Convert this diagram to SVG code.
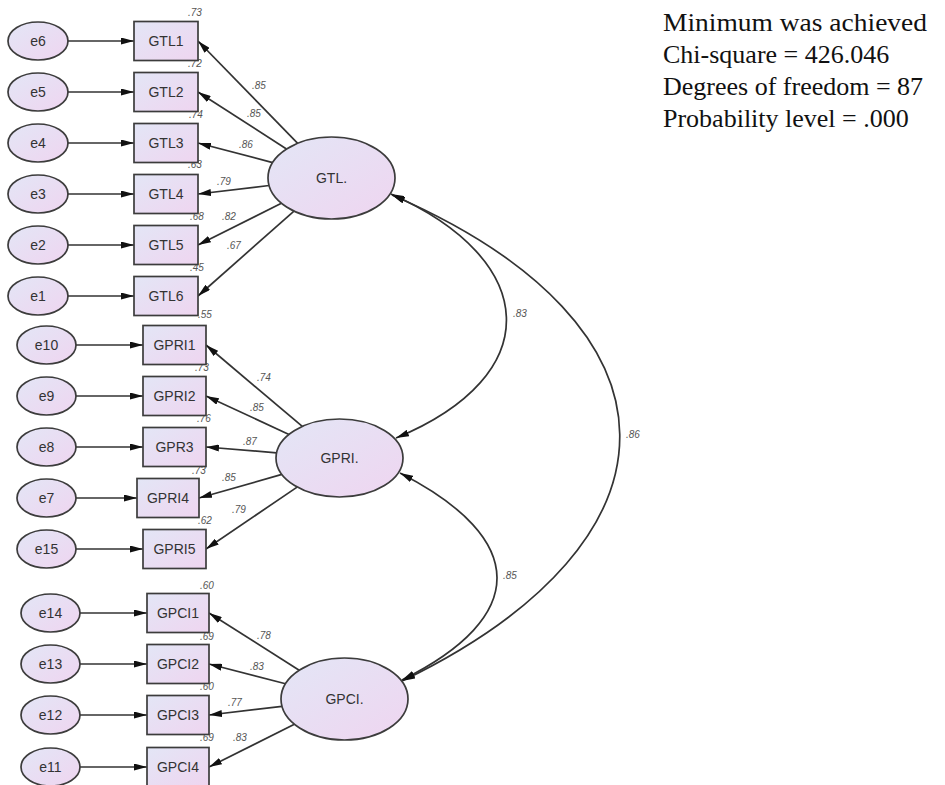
<svg xmlns="http://www.w3.org/2000/svg" width="945" height="785" viewBox="0 0 945 785">
  <style>
    .node { stroke: #3c3c3c; stroke-width: 1.7; fill: url(#nodeFill); }
    .lbl { font-family: "Liberation Sans", Arial, sans-serif; font-size: 14px; fill: #333; text-anchor: middle; }
    .num { font-family: "Liberation Sans", Arial, sans-serif; font-size: 10px; font-style: italic; fill: #555; }
    .path { stroke: #333; stroke-width: 1.7; fill: none; }
    .one { marker-end: url(#head); }
    .two { marker-start: url(#head); marker-end: url(#head); }
    .fit { font-family: "Liberation Serif", "Times New Roman", serif; font-size: 26px; fill: #111; }
  </style>
  <defs>
    <linearGradient id="nodeFill" x1="0" y1="0" x2="1" y2="1">
      <stop offset="0" stop-color="#e3e6f6"/>
      <stop offset="1" stop-color="#efd5f0"/>
    </linearGradient>
    <marker id="head" viewBox="0 0 13 7" refX="13" refY="3.5" markerWidth="13" markerHeight="7" markerUnits="userSpaceOnUse" orient="auto-start-reverse">
      <path d="M0,0 L13,3.5 L0,7 z" fill="#111"/>
    </marker>
  </defs>

  <rect width="945" height="785" fill="#fff"/>

  <!-- paths: errors -> indicators, factors -> indicators, covariances -->
  <g id="connectors">
    <!-- error terms -->
    <line class="path one" x1="68" y1="41" x2="134" y2="41"/>
    <line class="path one" x1="68" y1="92" x2="134" y2="92"/>
    <line class="path one" x1="68" y1="143" x2="134" y2="143"/>
    <line class="path one" x1="68" y1="194" x2="134" y2="194"/>
    <line class="path one" x1="68" y1="245" x2="134" y2="245"/>
    <line class="path one" x1="68" y1="296" x2="134" y2="296"/>
    <line class="path one" x1="76" y1="345" x2="143" y2="345"/>
    <line class="path one" x1="76" y1="396" x2="143" y2="396"/>
    <line class="path one" x1="76" y1="447" x2="143" y2="447"/>
    <line class="path one" x1="76" y1="498" x2="137" y2="498"/>
    <line class="path one" x1="76" y1="549" x2="143" y2="549"/>
    <line class="path one" x1="80" y1="613" x2="147" y2="613"/>
    <line class="path one" x1="80" y1="664" x2="147" y2="664"/>
    <line class="path one" x1="80" y1="715" x2="147" y2="715"/>
    <line class="path one" x1="80" y1="767" x2="147" y2="767"/>
    <!-- GTL loadings -->
    <line class="path one" x1="297.7" y1="143.3" x2="198" y2="41"/>
    <line class="path one" x1="286.5" y1="149" x2="198" y2="92"/>
    <line class="path one" x1="272.7" y1="162.6" x2="198" y2="143"/>
    <line class="path one" x1="269.1" y1="185.5" x2="198" y2="194"/>
    <line class="path one" x1="281.4" y1="203.2" x2="198" y2="245"/>
    <line class="path one" x1="294" y1="211.1" x2="198" y2="296"/>
    <!-- GPRI loadings -->
    <line class="path one" x1="302.3" y1="426.4" x2="206" y2="345"/>
    <line class="path one" x1="289" y1="434.4" x2="206" y2="396"/>
    <line class="path one" x1="276.6" y1="452.8" x2="206" y2="447"/>
    <line class="path one" x1="281.9" y1="474.4" x2="199" y2="498"/>
    <line class="path one" x1="297.1" y1="487.1" x2="206" y2="549"/>
    <!-- GPCI loadings -->
    <line class="path one" x1="299.2" y1="670.3" x2="209" y2="613"/>
    <line class="path one" x1="285.5" y1="683.8" x2="209" y2="664"/>
    <line class="path one" x1="282" y1="706.4" x2="209" y2="715"/>
    <line class="path one" x1="294.4" y1="724.2" x2="209" y2="767"/>
    <!-- factor covariances -->
    <path class="path two" d="M391,194 C540,260 548,375 396,438"/>
    <path class="path two" d="M392,195 C694,326 694,540 402,681"/>
    <path class="path two" d="M400,473 C529,539 529,617 402,680"/>
  </g>

  <!-- coefficient labels -->
  <g id="estimates" class="num">
    <text x="188" y="16">.73</text>
    <text x="188" y="67">.72</text>
    <text x="189" y="118">.74</text>
    <text x="188" y="168">.63</text>
    <text x="190" y="220">.68</text>
    <text x="190" y="271">.45</text>
    <text x="252" y="89">.85</text>
    <text x="247" y="117">.85</text>
    <text x="239" y="148">.86</text>
    <text x="217" y="185">.79</text>
    <text x="222" y="220">.82</text>
    <text x="227" y="249">.67</text>
    <text x="198" y="318">.55</text>
    <text x="195" y="371">.73</text>
    <text x="197" y="422">.76</text>
    <text x="192" y="474">.73</text>
    <text x="198" y="524">.62</text>
    <text x="257" y="381">.74</text>
    <text x="250" y="411">.85</text>
    <text x="243" y="445">.87</text>
    <text x="222" y="481">.85</text>
    <text x="232" y="513">.79</text>
    <text x="200" y="589">.60</text>
    <text x="200" y="640">.69</text>
    <text x="200" y="690">.60</text>
    <text x="200" y="741">.69</text>
    <text x="257" y="639">.78</text>
    <text x="250" y="670">.83</text>
    <text x="228" y="706">.77</text>
    <text x="233" y="741">.83</text>
    <text x="513" y="317">.83</text>
    <text x="626" y="438">.86</text>
    <text x="503" y="579">.85</text>
  </g>

  <!-- error terms -->
  <g id="e6"><ellipse class="node" cx="38" cy="41" rx="30" ry="19"/><text class="lbl" x="38" y="46">e6</text></g>
  <g id="e5"><ellipse class="node" cx="38" cy="92" rx="30" ry="19"/><text class="lbl" x="38" y="97">e5</text></g>
  <g id="e4"><ellipse class="node" cx="38" cy="143" rx="30" ry="19"/><text class="lbl" x="38" y="148">e4</text></g>
  <g id="e3"><ellipse class="node" cx="38" cy="194" rx="30" ry="19"/><text class="lbl" x="38" y="199">e3</text></g>
  <g id="e2"><ellipse class="node" cx="38" cy="245" rx="30" ry="19"/><text class="lbl" x="38" y="250">e2</text></g>
  <g id="e1"><ellipse class="node" cx="38" cy="296" rx="30" ry="19"/><text class="lbl" x="38" y="301">e1</text></g>
  <g id="e10"><ellipse class="node" cx="46.5" cy="345" rx="29.5" ry="19"/><text class="lbl" x="46.5" y="350">e10</text></g>
  <g id="e9"><ellipse class="node" cx="46.5" cy="396" rx="29.5" ry="19"/><text class="lbl" x="46.5" y="401">e9</text></g>
  <g id="e8"><ellipse class="node" cx="46.5" cy="447" rx="29.5" ry="19"/><text class="lbl" x="46.5" y="452">e8</text></g>
  <g id="e7"><ellipse class="node" cx="46.5" cy="498" rx="29.5" ry="19"/><text class="lbl" x="46.5" y="503">e7</text></g>
  <g id="e15"><ellipse class="node" cx="46.5" cy="549" rx="29.5" ry="19"/><text class="lbl" x="46.5" y="554">e15</text></g>
  <g id="e14"><ellipse class="node" cx="50.5" cy="613" rx="29.5" ry="19"/><text class="lbl" x="50.5" y="618">e14</text></g>
  <g id="e13"><ellipse class="node" cx="50.5" cy="664" rx="29.5" ry="19"/><text class="lbl" x="50.5" y="669">e13</text></g>
  <g id="e12"><ellipse class="node" cx="50.5" cy="715" rx="29.5" ry="19"/><text class="lbl" x="50.5" y="720">e12</text></g>
  <g id="e11"><ellipse class="node" cx="50.5" cy="767" rx="29.5" ry="19"/><text class="lbl" x="50.5" y="772">e11</text></g>

  <!-- observed indicators -->
  <g id="GTL1"><rect class="node" x="134" y="21.5" width="64" height="39"/><text class="lbl" x="166" y="46">GTL1</text></g>
  <g id="GTL2"><rect class="node" x="134" y="72.5" width="64" height="39"/><text class="lbl" x="166" y="97">GTL2</text></g>
  <g id="GTL3"><rect class="node" x="134" y="123.5" width="64" height="39"/><text class="lbl" x="166" y="148">GTL3</text></g>
  <g id="GTL4"><rect class="node" x="134" y="174.5" width="64" height="39"/><text class="lbl" x="166" y="199">GTL4</text></g>
  <g id="GTL5"><rect class="node" x="134" y="225.5" width="64" height="39"/><text class="lbl" x="166" y="250">GTL5</text></g>
  <g id="GTL6"><rect class="node" x="134" y="276.5" width="64" height="39"/><text class="lbl" x="166" y="301">GTL6</text></g>
  <g id="GPRI1"><rect class="node" x="143" y="325.5" width="63" height="39"/><text class="lbl" x="174.5" y="350">GPRI1</text></g>
  <g id="GPRI2"><rect class="node" x="143" y="376.5" width="63" height="39"/><text class="lbl" x="174.5" y="401">GPRI2</text></g>
  <g id="GPR3"><rect class="node" x="143" y="427.5" width="63" height="39"/><text class="lbl" x="174.5" y="452">GPR3</text></g>
  <g id="GPRI4"><rect class="node" x="137" y="478.5" width="62" height="39"/><text class="lbl" x="168" y="503">GPRI4</text></g>
  <g id="GPRI5"><rect class="node" x="143" y="529.5" width="63" height="39"/><text class="lbl" x="174.5" y="554">GPRI5</text></g>
  <g id="GPCI1"><rect class="node" x="147" y="593.5" width="62" height="39"/><text class="lbl" x="178" y="618">GPCI1</text></g>
  <g id="GPCI2"><rect class="node" x="147" y="644.5" width="62" height="39"/><text class="lbl" x="178" y="669">GPCI2</text></g>
  <g id="GPCI3"><rect class="node" x="147" y="695.5" width="62" height="39"/><text class="lbl" x="178" y="720">GPCI3</text></g>
  <g id="GPCI4"><rect class="node" x="147" y="747.5" width="62" height="39"/><text class="lbl" x="178" y="772">GPCI4</text></g>

  <!-- latent factors -->
  <g id="GTL"><ellipse class="node" cx="331.5" cy="178" rx="63.5" ry="41"/><text class="lbl" x="331.5" y="183">GTL.</text></g>
  <g id="GPRI"><ellipse class="node" cx="339.5" cy="458" rx="63.5" ry="39"/><text class="lbl" x="339.5" y="463">GPRI.</text></g>
  <g id="GPCI"><ellipse class="node" cx="344.5" cy="699" rx="63.5" ry="41"/><text class="lbl" x="344.5" y="704">GPCI.</text></g>

  <!-- model fit summary -->
  <g id="fit" class="fit">
    <text x="663" y="31" textLength="264" lengthAdjust="spacingAndGlyphs">Minimum was achieved</text>
    <text x="663" y="63">Chi-square = 426.046</text>
    <text x="663" y="95">Degrees of freedom = 87</text>
    <text x="663" y="127">Probability level = .000</text>
  </g>
</svg>
